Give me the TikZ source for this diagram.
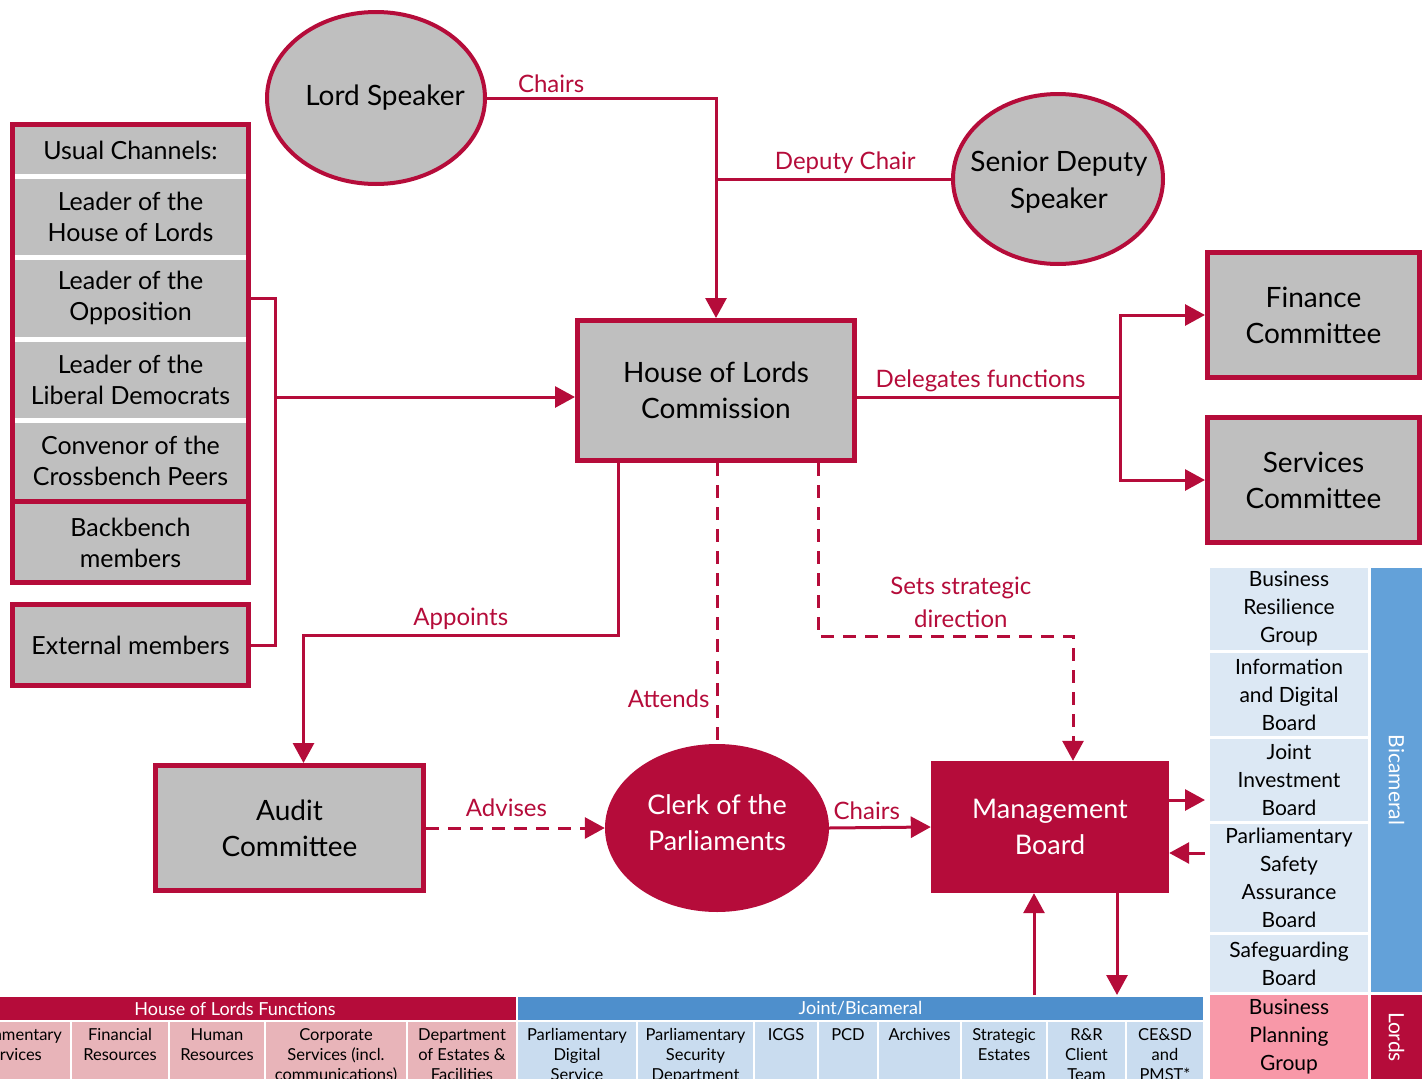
\documentclass[tikz,border=0pt]{standalone}
\usepackage{fontspec}
\setmainfont{Lato}
\usetikzlibrary{arrows.meta,shapes.geometric}

\definecolor{lordred}{HTML}{B50C3A}
\definecolor{boxgrey}{HTML}{BFBFBF}
\definecolor{bicamblue}{HTML}{63A1D9}
\definecolor{paleblue}{HTML}{DCE8F4}
\definecolor{rowblue}{HTML}{C9DCEF}
\definecolor{headblue}{HTML}{4E8FCC}
\definecolor{lordpink}{HTML}{F898A8}
\definecolor{rowpink}{HTML}{E8B4B9}

\tikzset{
  greybox/.style={draw=lordred, line width=5pt, fill=boxgrey, align=center, inner sep=0pt, font=\fontsize{28}{36}\selectfont},
  speaker/.style={ellipse, draw=lordred, line width=4pt, fill=boxgrey, inner sep=0pt},
  speakertext/.style={align=center, font=\fontsize{28}{37}\selectfont},
  redbox/.style={fill=lordred, text=white, align=center, inner sep=0pt, font=\fontsize{27}{36}\selectfont},
  link/.style={draw=lordred, line width=3pt},
  dashline/.style={dash pattern=on 13pt off 9pt},
  arrowhd/.style={-{Triangle[length=20pt,width=21pt]}},
  linklabel/.style={text=lordred, font=\fontsize{24}{33}\selectfont, align=center, inner sep=4pt},
  chantext/.style={align=center, font=\fontsize{25}{31}\selectfont},
  board/.style={fill=paleblue, minimum width=158pt, align=center, inner sep=0pt, font=\fontsize{21}{28}\selectfont},
  sidebar/.style={rotate=-90, text=white, minimum height=51pt, inner sep=0pt, font=\fontsize{21}{26}\selectfont},
  stripcell/.style={anchor=north, align=center, inner sep=0pt, font=\fontsize{16.5}{20}\selectfont},
  striphead/.style={text=white, minimum height=23pt, inner sep=0pt, font=\fontsize{18}{20}\selectfont}
}

\begin{document}
\begin{tikzpicture}[x=1pt, y=-1pt]
\useasboundingbox (0,0) rectangle (1428,1079);
\clip (0,0) rectangle (1428,1079);

% speakers and commission
\node[speaker, minimum width=218pt, minimum height=172pt] (ls) at (376,98) {};
\node[speakertext] (lstext) at (385,98) {Lord Speaker};
\node[speaker, minimum width=210pt, minimum height=170pt] (sds) at (1058,179) {};
\node[speakertext] (sdstext) at (1059,182) {Senior Deputy\\Speaker};
\node[greybox, minimum width=277pt, minimum height=140pt] (hlc) at (716,390.5) {House of Lords\\Commission};
\node[greybox, minimum width=212pt, minimum height=125pt] (fin) at (1313.5,315) {Finance\\Committee};
\node[greybox, minimum width=212pt, minimum height=125pt] (svc) at (1313.5,480) {Services\\Committee};
\node[greybox, minimum width=268pt, minimum height=125pt] (audit) at (289.5,828) {Audit\\Committee};
\node[ellipse, fill=lordred, minimum width=224pt, minimum height=168pt, inner sep=0pt] (clerk) at (717,828) {};
\node[redbox] (clerktext) at (717,823) {Clerk of the\\Parliaments};
\node[redbox, minimum width=238pt, minimum height=132pt] (mb) at (1050,827) {Management\\Board};

% usual channels
\node[greybox, minimum width=236pt, minimum height=458pt] (chan) at (130.5,353.5) {};
\node[chantext] (usual) at (130.5,150) {Usual Channels:};
\node[chantext] (lhl) at (130.5,216.5) {Leader of the\\House of Lords};
\node[chantext] (opp) at (130.5,298) {Leader of the\\Opposition};
\node[chantext] (lib) at (130.5,380) {Leader of the\\Liberal Democrats};
\node[chantext] (conv) at (130.5,461) {Convenor of the\\Crossbench Peers};
\node[chantext] (back) at (130.5,543) {Backbench\\members};
\foreach \y in {176,257,339,420}
  \draw[white, line width=5pt] (15,\y) -- (246,\y);
\draw[lordred, line width=5pt] (12,501) -- (249,501);
\node[greybox, chantext, minimum width=236pt, minimum height=81pt] (ext) at (130.5,645) {External members};

% boards on the right
\node[board, minimum height=82pt] (brg) at (1289,609) {Business\\Resilience\\Group};
\node[board, minimum height=83pt] (idb) at (1289,694.5) {Information\\and Digital\\Board};
\node[board, minimum height=82pt] (jib) at (1289,780) {Joint\\Investment\\Board};
\node[board, minimum height=108pt] (psab) at (1289,878) {Parliamentary\\Safety\\Assurance\\Board};
\node[board, minimum height=57pt] (sgb) at (1289,963.5) {Safeguarding\\Board};
\node[board, fill=lordpink, minimum height=84pt] (bpg) at (1289,1037) {Business\\Planning\\Group};
\node[sidebar, fill=bicamblue, minimum width=424pt] (bic) at (1396.5,780) {Bicameral};
\node[sidebar, fill=lordred, minimum width=84pt] (lords) at (1396.5,1037) {Lords};

% functions strip
\node[striphead, fill=lordred, minimum width=562pt] (holf) at (235,1008.5) {House of Lords Functions};
\node[striphead, fill=headblue, minimum width=685pt] (joint) at (860.5,1008.5) {Joint/Bicameral};
\foreach \xa/\xb/\txt in {-46/70/{Parliamentary\\Services}, 72/168/{Financial\\Resources},
    170/264/{Human\\Resources}, 266/406/{Corporate\\Services (incl.\\communications)},
    408/516/{Department\\of Estates \&\\Facilities}} {
  \fill[rowpink] (\xa,1022) rectangle (\xb,1085);
  \node[stripcell] at ({(\xa+\xb)/2},1028) {\txt};
}
\foreach \xa/\xb/\txt in {518/636/{Parliamentary\\Digital\\Service}, 638/753/{Parliamentary\\Security\\Department},
    755/817/{ICGS}, 819/877/{PCD}, 879/960/{Archives}, 962/1046/{Strategic\\Estates},
    1048/1125/{R\&R\\Client\\Team}, 1127/1203/{CE\&SD\\and\\PMST*}} {
  \fill[rowblue] (\xa,1022) rectangle (\xb,1085);
  \node[stripcell] at ({(\xa+\xb)/2},1028) {\txt};
}

% links
\coordinate (jn) at (275,397);
\draw[link] (chan.east |- opp) -| (jn) |- (ext.east);
\draw[link, arrowhd] (jn) -- (hlc.west |- jn);

\draw[link, arrowhd] (ls.east) -| (hlc.north) node[pos=0.14, above, linklabel] {Chairs};
\draw[link] (sds.west) -- (sds.west -| hlc.north) node[pos=0.45, above, linklabel] {Deputy Chair};

\coordinate (dj) at (1120,397);
\draw[link] (hlc.east |- dj) -- (dj) node[pos=0.47, above, linklabel] {Delegates functions};
\draw[link, arrowhd] (dj) |- (fin.west);
\draw[link, arrowhd] (dj) |- (svc.west);

\coordinate (ap) at (618,635);
\draw[link, arrowhd] (hlc.south -| ap) -- (ap) -| ([xshift=14pt]audit.north)
  node[pos=0.25, above, linklabel] {Appoints};

\draw[link, dashline] (hlc.south -| clerk.north) -- (clerk.north)
  node[pos=0.84, left=2pt, linklabel] {Attends};

\coordinate (sd) at (818,636);
\draw[link, dashline, arrowhd] (hlc.south -| sd) -- (sd) -| ([xshift=23pt]mb.north)
  node[pos=0.28, above=3pt, linklabel] {Sets strategic\\direction};

\draw[link, dashline, arrowhd] (audit.east) -- (clerk.west)
  node[pos=0.45, above=6pt, linklabel] {Advises};
\draw[link, arrowhd] (clerk.east) -- (mb.west) node[pos=0.37, above=2pt, linklabel] {Chairs};

\coordinate (mbout) at (1205,800);
\coordinate (mbin) at (1205,853);
\draw[link, arrowhd] (mb.east |- mbout) -- (mbout);
\draw[link, arrowhd] (mbin) -- (mb.east |- mbin);

\coordinate (upend) at (1034,995);
\coordinate (dnend) at (1117,995);
\draw[link, arrowhd] (upend) -- (mb.south -| upend);
\draw[link, arrowhd] (mb.south -| dnend) -- (dnend);
\end{tikzpicture}
\end{document}
